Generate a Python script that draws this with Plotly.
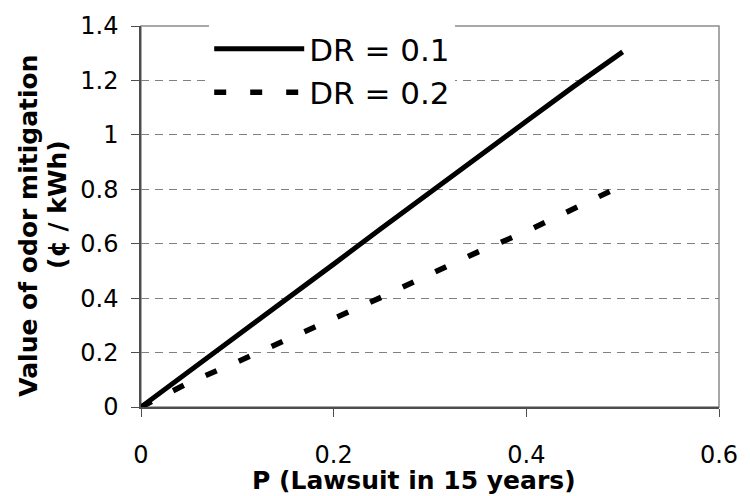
import plotly.graph_objects as go

# Data
p_lawsuit = [0, 0.05, 0.1, 0.15, 0.2, 0.25, 0.3, 0.35, 0.4, 0.45, 0.5]
dr_01 = [0, 0.13, 0.26, 0.39, 0.525, 0.658, 0.79, 0.92, 1.05, 1.18, 1.305]
dr_02 = [0, 0.09, 0.166, 0.245, 0.325, 0.404, 0.488, 0.57, 0.645, 0.732, 0.815]
series_names = ["DR = 0.1", "DR = 0.2"]

x_tick_vals = [0, 0.2, 0.4, 0.6]
x_tick_text = ["0", "0.2", "0.4", "0.6"]
y_tick_vals = [0, 0.2, 0.4, 0.6, 0.8, 1.0, 1.2, 1.4]
y_tick_text = ["0", "0.2", "0.4", "0.6", "0.8", "1", "1.2", "1.4"]

x_title = "P (Lawsuit in 15 years)"
y_title_1 = "Value of odor mitigation"
y_title_2 = "(¢ / kWh)"

FONT = "DejaVu Sans"

fig = go.Figure()
fig.add_trace(go.Scatter(
    x=p_lawsuit, y=dr_01, mode="lines", name=series_names[0],
    line=dict(color="black", width=5),
))
fig.add_trace(go.Scatter(
    x=p_lawsuit, y=dr_02, mode="lines", name=series_names[1],
    line=dict(color="black", width=5.5, dash="12px,24px"),
))

axis_common = dict(
    showline=True, linecolor="#4d4d4d", linewidth=1.5,
    ticks="outside", ticklen=8, tickcolor="#4d4d4d", tickwidth=1.2,
    tickfont=dict(family=FONT, size=24, color="black"),
    zeroline=False,
)

fig.update_xaxes(
    range=[0, 0.6], tickvals=x_tick_vals, ticktext=x_tick_text,
    showgrid=False, ticklabelstandoff=17, **axis_common,
)
fig.update_yaxes(
    range=[0, 1.4], tickvals=y_tick_vals, ticktext=y_tick_text,
    showgrid=True, gridcolor="#808080", gridwidth=1, griddash="8px,6px",
    ticklabelstandoff=8, **axis_common,
)

fig.add_shape(type="rect", xref="paper", yref="paper", x0=0, y0=0, x1=1, y1=1,
              line=dict(color="#8c8c8c", width=1.5), layer="below")

fig.add_annotation(text=x_title, xref="paper", yref="paper", x=0.4727, y=-0.194,
                   xanchor="center", yanchor="middle", showarrow=False,
                   font=dict(family=FONT, size=25, color="black", weight="bold"))
fig.add_annotation(text=y_title_1, xref="paper", yref="paper", x=-0.1945, y=0.4745,
                   xanchor="center", yanchor="middle", showarrow=False, textangle=-90,
                   font=dict(family=FONT, size=25, color="black", weight="bold"))
fig.add_annotation(text=y_title_2, xref="paper", yref="paper", x=-0.1433, y=0.5306,
                   xanchor="center", yanchor="middle", showarrow=False, textangle=-90,
                   font=dict(family=FONT, size=25, color="black", weight="bold"))

fig.update_layout(
    width=750, height=496,
    margin=dict(l=141, r=23, t=15, b=89),
    paper_bgcolor="white", plot_bgcolor="white",
    showlegend=True,
    legend=dict(
        x=0.118, y=1.010, xanchor="left", yanchor="top",
        bgcolor="white", borderwidth=0,
        font=dict(family=FONT, size=31, color="black"),
        itemwidth=90, tracegroupgap=0,
    ),
)

fig.write_html("out.html")
